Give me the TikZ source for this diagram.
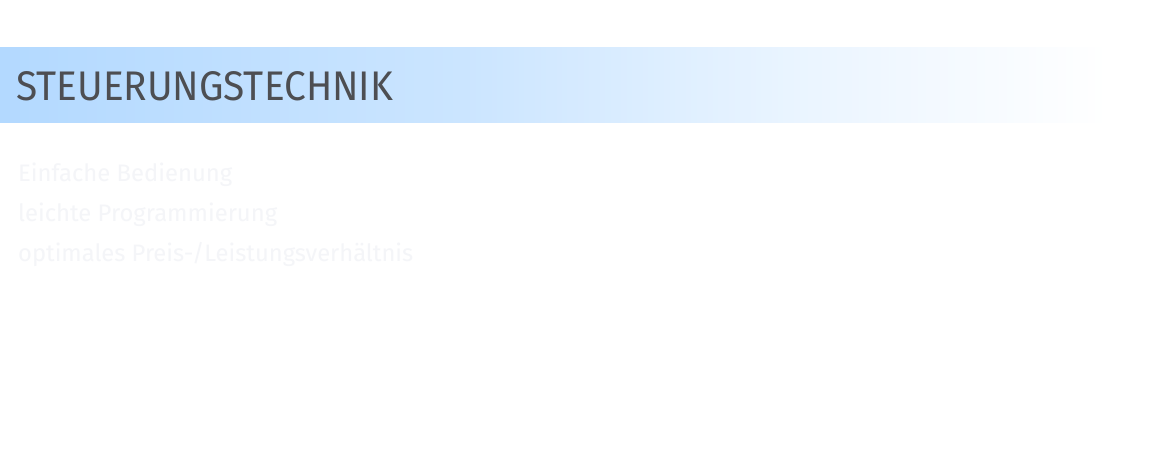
\documentclass[tikz,border=0pt]{standalone}
\usepackage{fontspec}
\setmainfont{Fira Sans}
\definecolor{bandblue}{HTML}{B3D9FF}
\definecolor{headgray}{HTML}{4D4E52}
\definecolor{faint}{HTML}{F4F5F8}
\pgfdeclarehorizontalshading{bandshade}{100bp}{color(0bp)=(bandblue); color(25bp)=(bandblue); color(45bp)=(bandblue!68!white); color(59bp)=(bandblue!28!white); color(72.4bp)=(white); color(100bp)=(white)}
\tikzset{
  heading/.style={anchor=base west, inner sep=0pt, text=headgray, font=\fontsize{40}{40}\selectfont},
  feature/.style={anchor=base west, inner sep=0pt, text=faint, font=\fontsize{27}{27}\selectfont}
}
\begin{document}
\begin{tikzpicture}[x=1pt,y=-1pt]
\useasboundingbox (0,0) rectangle (1170,470);
\fill[white] (0,0) rectangle (1170,470);
\shade[shading=bandshade] (0,48) rectangle (1170,123);
\node[heading] (title) at (16,101) {\resizebox{377pt}{29pt}{STEUERUNGSTECHNIK}};
\node[feature] (f1) at (18,182) {\resizebox{214pt}{!}{Einfache Bedienung}};
\node[feature] (f2) at (18,222) {\resizebox{259pt}{!}{leichte Programmierung}};
\node[feature] (f3) at (18,262) {\resizebox{395pt}{!}{optimales Preis-/Leistungsverhältnis}};
\end{tikzpicture}
\end{document}
